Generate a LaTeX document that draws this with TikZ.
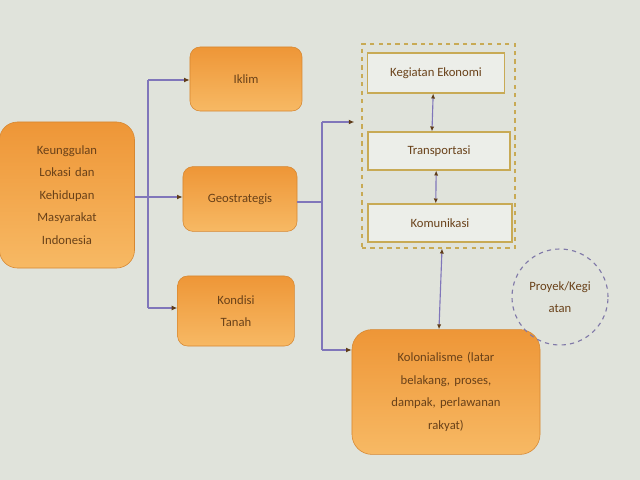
\documentclass[tikz,border=0pt]{standalone}
\usepackage{fontspec}
\setmainfont{Carlito}
\usetikzlibrary{arrows.meta}
\definecolor{hinter}{RGB}{224,227,219}
\definecolor{orangeoben}{RGB}{238,150,55}
\definecolor{orangeunten}{RGB}{247,185,100}
\definecolor{schrift}{RGB}{105,65,25}
\definecolor{linie}{RGB}{128,118,186}
\definecolor{gold}{RGB}{200,170,85}
\definecolor{spitze}{RGB}{95,60,25}
\begin{document}
\begin{tikzpicture}[x=0.025cm,y=-0.025cm,
  box/.style={rounded corners=0.25cm,top color=orangeoben,bottom color=orangeunten,
    draw=orangeoben!90!black,thin,text=schrift,align=center,
    font=\fontsize{9}{16}\selectfont},
  kasten/.style={draw=gold,thick,fill=hinter!60!white,text=schrift,
    font=\fontsize{9}{10}\selectfont},
  pfeil/.style={draw=linie,thick,-{Latex[length=4pt,width=3.5pt,color=spitze]}},
  doppel/.style={draw=linie,thick,{Latex[length=3.5pt,width=3pt,color=spitze]}-{Latex[length=3.5pt,width=3pt,color=spitze]}}]
% Hintergrund
\fill[hinter] (0,0) rectangle (640,480);
\useasboundingbox (0,0) rectangle (640,480);
% Linke Box
\node[box,rounded corners=0.45cm,minimum width=3.375cm,minimum height=3.65cm,text width=3cm]
  (keunggulan) at (67,195) {Keunggulan\\Lokasi dan\\Kehidupan\\Masyarakat\\Indonesia};
% Mittlere Boxen
\node[box,minimum width=2.8cm,minimum height=1.6cm] (iklim) at (246,79) {Iklim};
\node[box,minimum width=2.85cm,minimum height=1.62cm] (geo) at (240,199) {Geostrategis};
\node[box,minimum width=2.92cm,minimum height=1.75cm] (kondisi) at (236,311) {Kondisi\\Tanah};
% Gruppe rechts oben
\node[draw=gold,dashed,thick,minimum width=3.825cm,minimum height=5.1cm] (gruppe) at (438.5,146) {};
\node[kasten,minimum width=3.42cm,minimum height=1cm] (ekonomi) at (436,73) {Kegiatan Ekonomi};
\node[kasten,minimum width=3.55cm,minimum height=0.95cm] (transport) at (439,151) {Transportasi};
\node[kasten,minimum width=3.6cm,minimum height=0.95cm] (komunikasi) at (440,223) {Komunikasi};
% Kolonialismus
\node[box,rounded corners=0.5cm,minimum width=4.7cm,minimum height=3.12cm,text width=4.2cm]
  (kolonial) at (446,392) {Kolonialisme (latar\\belakang, proses,\\dampak, perlawanan\\rakyat)};
% Kreis
\node[circle,draw=linie!70!gray,dashed,thick,minimum size=2.4cm,align=center,text=schrift,
  font=\fontsize{9}{16}\selectfont] (proyek) at (560,297) {Proyek/Kegi\\atan};
% Hilfspunkte der Verzweigungen
\coordinate (s1) at (148,197);
\coordinate (s1o) at (148,80);
\coordinate (s1u) at (148,308);
\coordinate (s2) at (322,202);
\coordinate (s2o) at (322,122);
\coordinate (s2u) at (322,350);
% Verbindungen links
\draw[draw=linie,thick] (keunggulan.east |- s1) -- (s1);
\draw[draw=linie,thick] (s1o) -- (s1u);
\draw[pfeil] (s1o) -- (iklim.west |- s1o);
\draw[pfeil] (s1) -- (geo.west |- s1);
\draw[pfeil] (s1u) -- (kondisi.west |- s1u);
% Verbindungen rechts
\draw[draw=linie,thick] (geo.east |- s2) -- (s2);
\draw[draw=linie,thick] (s2o) -- (s2u);
\draw[pfeil] (s2o) -- ([xshift=-5]gruppe.west |- s2o);
\draw[pfeil] (s2u) -- (kolonial.west |- s2u);
% Doppelpfeile
\draw[doppel] ([xshift=-2]ekonomi.south) -- ([xshift=-5]transport.north);
\draw[doppel] ([xshift=-2]transport.south) -- ([xshift=-3]komunikasi.north);
\draw[doppel] ([xshift=2.5]gruppe.south) -- ([xshift=-5]kolonial.north);
\end{tikzpicture}
\end{document}
